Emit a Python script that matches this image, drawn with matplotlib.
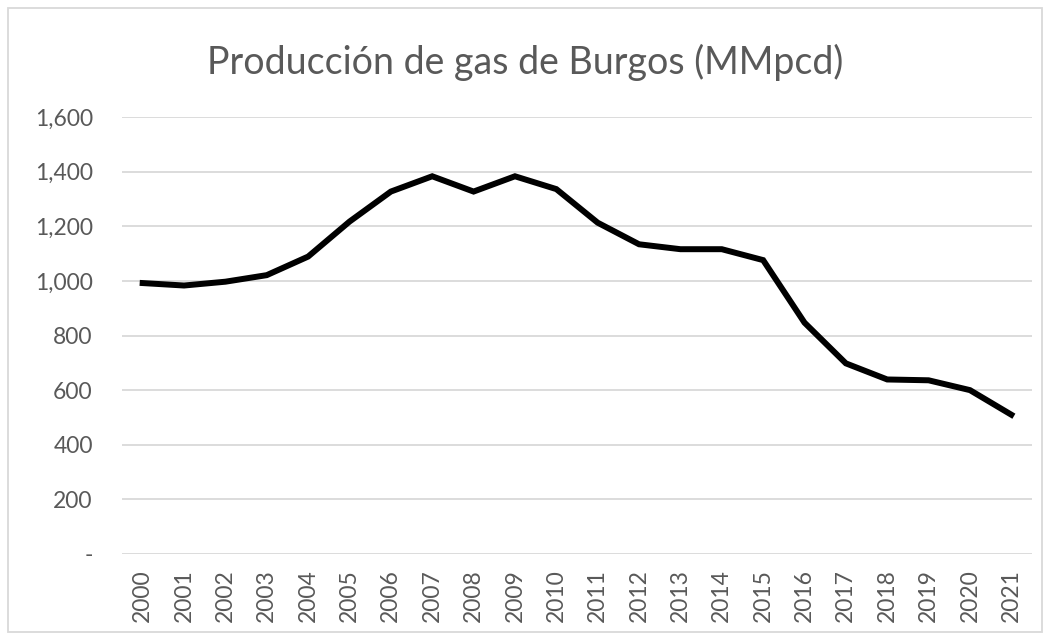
import numpy as np
import matplotlib.pyplot as plt
from matplotlib.patches import Rectangle
from matplotlib.ticker import FuncFormatter

# Producción de gas de Burgos, MMpcd
years = [str(y) for y in range(2000, 2022)]
produccion = [992, 983, 997, 1021, 1089, 1217, 1327, 1383, 1327, 1383, 1336,
              1213, 1134, 1116, 1116, 1076, 847, 698, 639, 636, 600, 510]
yticks = [0, 200, 400, 600, 800, 1000, 1200, 1400, 1600]

plt.rcParams['font.family'] = ['Lato', 'DejaVu Sans']

fig = plt.figure(figsize=(10.5, 6.4), dpi=100)
ax = fig.add_axes([122/1050, 86/640, 910/1050, 437/640])

x = np.arange(len(years))
ax.plot(x, produccion, color='black', linewidth=4.3, solid_joinstyle='miter', zorder=3)

ax.set_xlim(-0.5, len(years) - 0.5)
ax.set_ylim(0, 1600)
ax.set_yticks(yticks)
ax.yaxis.set_major_formatter(FuncFormatter(lambda v, p: '-' if v == 0 else f'{int(v):,}'))
ax.set_xticks(x)
ax.set_xticklabels(years, rotation=90)
ax.grid(axis='y', color='#d9d9d9', linewidth=1.3)
ax.set_axisbelow(True)
for s in ax.spines.values():
    s.set_visible(False)
ax.tick_params(axis='both', length=0, colors='#595959', labelsize=16.5)
ax.tick_params(axis='y', pad=21)
ax.tick_params(axis='x', pad=11)

fig.text(0.5, 1 - 62/640, 'Producción de gas de Burgos (MMpcd)', ha='center', va='center',
         fontsize=27, color='#595959')

# chart border
fig.patches.append(Rectangle((8/1050, 8/640), 1034/1050, 624/640, transform=fig.transFigure,
                             fill=False, edgecolor='#d9d9d9', linewidth=1.3))

fig.savefig('out.png', dpi=100, facecolor='white')
